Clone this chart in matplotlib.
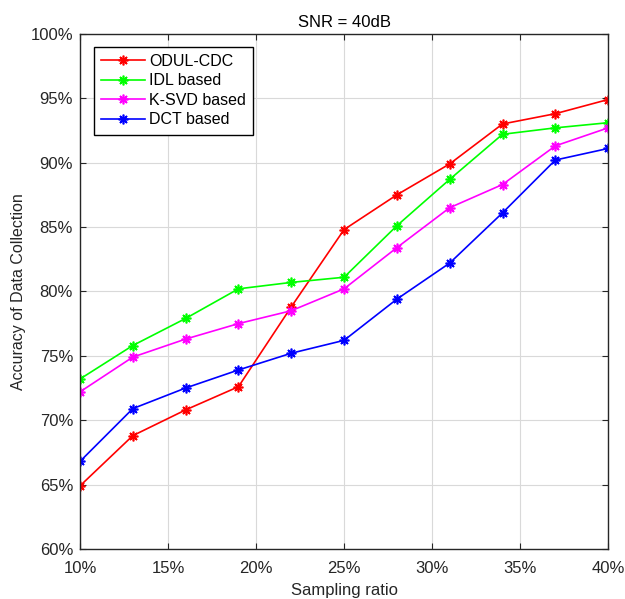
import matplotlib
matplotlib.use("Agg")
import matplotlib.pyplot as plt
from matplotlib.ticker import FuncFormatter

# ---------- Data ----------
sampling_ratio = [10, 13, 16, 19, 22, 25, 28, 31, 34, 37, 40]
odul_cdc = [64.9, 68.8, 70.8, 72.6, 78.8, 84.8, 87.5, 89.9, 93.0, 93.8, 94.9]
idl_based = [73.2, 75.8, 77.9, 80.2, 80.7, 81.1, 85.1, 88.7, 92.2, 92.7, 93.1]
ksvd_based = [72.2, 74.9, 76.3, 77.5, 78.5, 80.2, 83.4, 86.5, 88.3, 91.3, 92.7]
dct_based = [66.8, 70.9, 72.5, 73.9, 75.2, 76.2, 79.4, 82.2, 86.1, 90.2, 91.1]

series = [
    ("ODUL-CDC", odul_cdc, "#FF0000"),
    ("IDL based", idl_based, "#00FF00"),
    ("K-SVD based", ksvd_based, "#FF00FF"),
    ("DCT based", dct_based, "#0000FF"),
]

plt.rcParams["font.family"] = ["Liberation Sans", "DejaVu Sans"]
AX_COLOR = "#262626"

fig = plt.figure(figsize=(6.25, 5.99), dpi=100)
ax = fig.add_axes([0.128, 0.0835, 0.845, 0.86])

for label, vals, color in series:
    ax.plot(sampling_ratio, vals, color=color, linewidth=1.2,
            marker=(8, 2, 0), markersize=7, markeredgewidth=1.2,
            label=label)

ax.set_xlim(10, 40)
ax.set_ylim(60, 100)
ax.set_xticks(range(10, 41, 5))
ax.set_yticks(range(60, 101, 5))
ax.xaxis.set_major_formatter(FuncFormatter(lambda x, _: f"{int(x)}%"))
ax.yaxis.set_major_formatter(FuncFormatter(lambda y, _: f"{int(y)}%"))

ax.grid(True, color="#d9d9d9", linewidth=0.8)
ax.set_axisbelow(True)
ax.tick_params(direction="in", top=True, right=True, length=4,
               labelsize=12, colors=AX_COLOR)
ax.tick_params(axis="x", pad=9)
ax.tick_params(axis="y", pad=5)
for sp in ax.spines.values():
    sp.set_color(AX_COLOR)
    sp.set_linewidth(1.0)

ax.set_xlabel("Sampling ratio", fontsize=12, color=AX_COLOR, labelpad=5)
ax.set_ylabel("Accuracy of Data Collection", fontsize=11.5, color=AX_COLOR, labelpad=3)
ax.set_title("SNR = 40dB", fontsize=12, color="black", pad=5)

leg = ax.legend(loc="upper left", bbox_to_anchor=(0.027, 0.975), fontsize=11.5,
                fancybox=False, framealpha=1, edgecolor="black",
                borderaxespad=0, handlelength=2.7, handletextpad=0.3,
                labelspacing=0.28, borderpad=0.45)
leg.get_frame().set_linewidth(1.0)

fig.savefig("out.png", dpi=100)
